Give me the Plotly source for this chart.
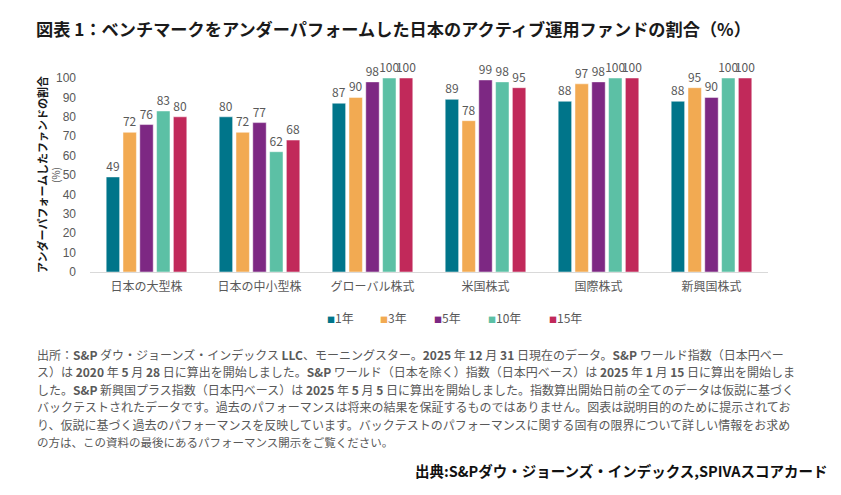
"""
図表1 — ベンチマークをアンダーパフォームした日本のアクティブ運用ファンドの割合
"""
import plotly.graph_objects as go

CATEGORIES = ["日本の大型株", "日本の中小型株", "グローバル株式", "米国株式", "国際株式", "新興国株式"]
PERIODS = ["1年", "3年", "5年", "10年", "15年"]
COLORS = ["#00758A", "#F2AA52", "#7D2883", "#5CC0A5", "#C1295A"]

Y1 = [49, 80, 87, 89, 88, 88]
Y3 = [72, 72, 90, 78, 97, 95]
Y5 = [76, 77, 98, 99, 98, 90]
Y10 = [83, 62, 100, 98, 100, 100]
Y15 = [80, 68, 100, 95, 100, 100]
SERIES = [Y1, Y3, Y5, Y10, Y15]

Y_TICKS = [0, 10, 20, 30, 40, 50, 60, 70, 80, 90, 100]

TITLE = "図表 1：ベンチマークをアンダーパフォームした日本のアクティブ運用ファンドの割合（%）"
Y_TITLE = "アンダーパフォームしたファンドの割合"
NOTE_LINES = [
    "出所：<b>S&P</b> ダウ・ジョーンズ・インデックス <b>LLC</b>、モーニングスター。<b>2025</b> 年 <b>12</b> 月 <b>31</b> 日現在のデータ。<b>S&P</b> ワールド指数（日本円ベー",
    "ス）は <b>2020</b> 年 <b>5</b> 月 <b>28</b> 日に算出を開始しました。<b>S&P</b> ワールド（日本を除く）指数（日本円ベース）は <b>2025</b> 年 <b>1</b> 月 <b>15</b> 日に算出を開始しま",
    "した。<b>S&P</b> 新興国プラス指数（日本円ベース）は <b>2025</b> 年 <b>5</b> 月 <b>5</b> 日に算出を開始しました。指数算出開始日前の全てのデータは仮説に基づく",
    "バックテストされたデータです。過去のパフォーマンスは将来の結果を保証するものではありません。図表は説明目的のために提示されてお",
    "り、仮説に基づく過去のパフォーマンスを反映しています。バックテストのパフォーマンスに関する固有の限界について詳しい情報をお求め",
    "の方は、この資料の最後にあるパフォーマンス開示をご覧ください。",
]
SOURCE = "出典:S&Pダウ・ジョーンズ・インデックス,SPIVAスコアカード"

FONT = "Noto Sans CJK JP"
GREY = "#595959"

# page has an 8px body margin, so the figure is laid out 8px up/left
OFF = 8
W, H = 841 - OFF, 495 - OFF
L, R, T, B = 90 - OFF, 73, 78 - OFF, 223
PLOT_H = H - T - B
PLOT_W = W - L - R


def py(pix):
    # reference-page pixel y -> paper y
    return (H - B - (pix - OFF)) / PLOT_H


def px(pix):
    return (pix - OFF - L) / PLOT_W


fig = go.Figure()

for name, vals, color in zip(PERIODS, SERIES, COLORS):
    fig.add_trace(go.Bar(
        x=CATEGORIES, y=vals, name=name, showlegend=False,
        marker=dict(color=color, line=dict(color="rgba(255,255,255,0.6)", width=0.8)),
        text=[str(v) for v in vals], textposition="outside",
        textfont=dict(family=FONT, size=12, color=GREY),
        constraintext="none", cliponaxis=False,
    ))

fig.update_layout(
    width=W, height=H,
    margin=dict(l=L, r=R, t=T, b=B),
    paper_bgcolor="white", plot_bgcolor="white",
    font=dict(family=FONT, color=GREY, size=12),
    barmode="group", bargap=0.257, bargroupgap=0.2,
    showlegend=False,
    title=dict(
        text=f"<b>{TITLE}</b>", x=(36 - OFF) / W, xanchor="left",
        y=1 - (30 - OFF) / H, yanchor="middle",
        font=dict(family=FONT, size=17.2, color="#1a1a1a"),
    ),
)

fig.update_xaxes(
    showline=True, linecolor="#d9d9d9", linewidth=1,
    ticks="", tickfont=dict(family=FONT, size=12, color=GREY),
    ticklabelstandoff=4,
)
fig.update_yaxes(
    range=[0, 100], tickvals=Y_TICKS, showgrid=False, zeroline=False,
    showline=False, ticks="", tickfont=dict(family="Liberation Sans", size=12, color=GREY),
    ticklabelstandoff=13,
)

# legend: small coloured squares + labels
LEGEND_X = [325, 378, 432, 486, 547]
for name, color, lx in zip(PERIODS, COLORS, LEGEND_X):
    fig.add_annotation(
        text=f"<span style='color:{color};font-size:8px'>■</span>{name}",
        xref="paper", yref="paper", x=px(lx), y=py(317),
        xanchor="left", yanchor="middle", showarrow=False,
        font=dict(family=FONT, size=12, color=GREY),
    )

# y-axis title
fig.add_annotation(
    text=f"<b>{Y_TITLE}</b>", textangle=-90, xref="paper", yref="paper",
    x=px(42), y=py(175), xanchor="center", yanchor="middle", showarrow=False,
    font=dict(family=FONT, size=11, color="#1a1a1a"),
)
fig.add_annotation(
    text="(%)", textangle=-90, xref="paper", yref="paper",
    x=px(55), y=py(175), xanchor="center", yanchor="middle", showarrow=False,
    font=dict(family=FONT, size=10, color=GREY),
)

# notes
for i, line in enumerate(NOTE_LINES):
    fig.add_annotation(
        text=line, xref="paper", yref="paper",
        x=px(35), y=py(354 + i * 17.6), xanchor="left", yanchor="middle",
        showarrow=False,
        font=dict(family=FONT, size=12 if i < len(NOTE_LINES) - 1 else 11.5, color=GREY),
    )

fig.add_annotation(
    text=f"<b>{SOURCE}</b>", xref="paper", yref="paper",
    x=px(829), y=py(470), xanchor="right", yanchor="middle",
    showarrow=False, font=dict(family=FONT, size=14.5, color="#111111"),
)

fig.write_html("out.html")
